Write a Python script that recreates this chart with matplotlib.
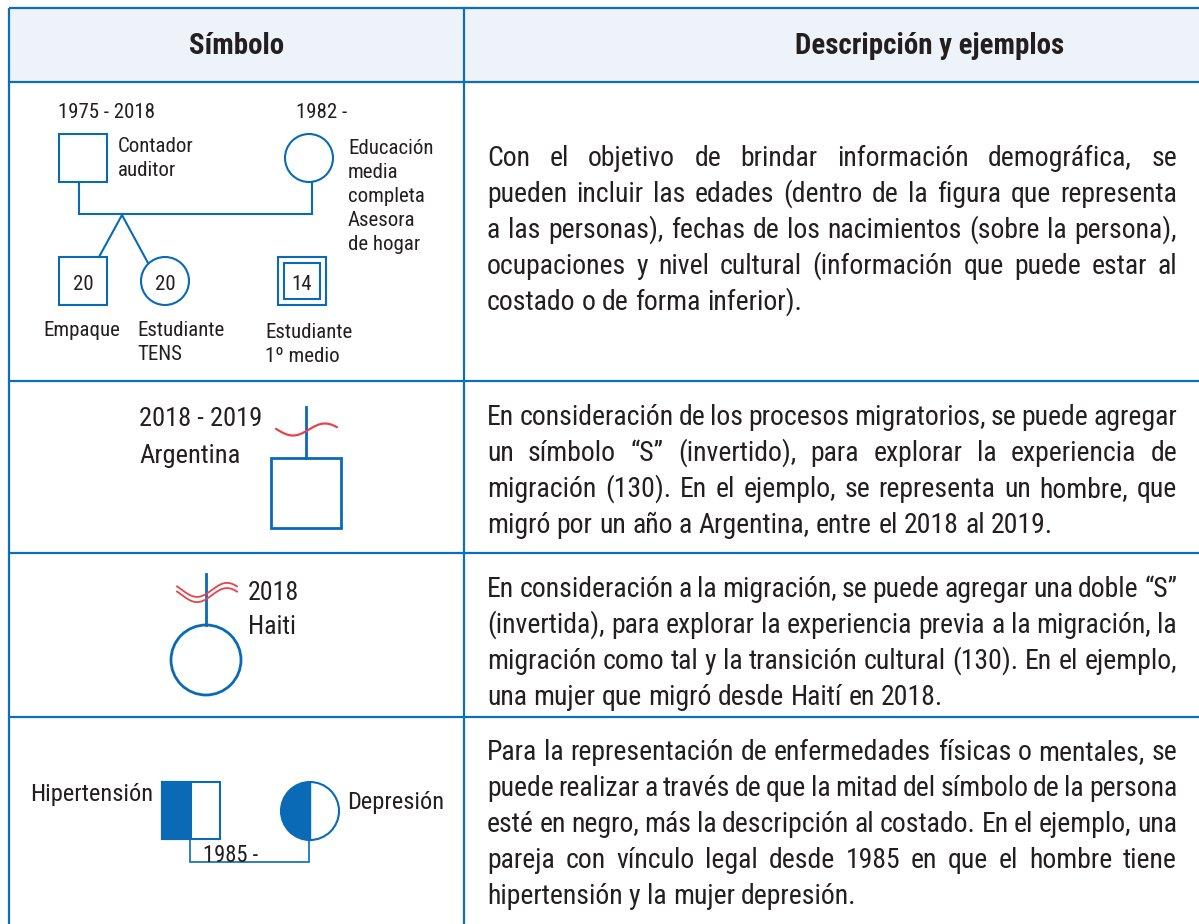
import matplotlib
matplotlib.use("Agg")
import matplotlib.pyplot as plt
from matplotlib import font_manager as fm
from matplotlib.font_manager import FontProperties
from matplotlib.patches import Rectangle, Circle, Wedge
import numpy as np

# ---------------- content ----------------
header_symbol = "Símbolo"
header_desc = "Descripción y ejemplos"

row1_desc = [
    "Con el objetivo de brindar información demográfica, se",
    "pueden incluir las edades (dentro de la figura que representa",
    "a las personas), fechas de los nacimientos (sobre la persona),",
    "ocupaciones y nivel cultural (información que puede estar al",
    "costado o de forma inferior).",
]
row2_desc = [
    "En consideración de los procesos migratorios, se puede agregar",
    "un símbolo “S” (invertido), para explorar la experiencia de",
    "migración (130). En el ejemplo, se representa un hombre, que",
    "migró por un año a Argentina, entre el 2018 al 2019.",
]
row3_desc = [
    "En consideración a la migración, se puede agregar una doble “S”",
    "(invertida), para explorar la experiencia previa a la migración, la",
    "migración como tal y la transición cultural (130). En el ejemplo,",
    "una mujer que migró desde Haití en 2018.",
]
row4_desc = [
    "Para la representación de enfermedades físicas o mentales, se",
    "puede realizar a través de que la mitad del símbolo de la persona",
    "esté en negro, más la descripción al costado. En el ejemplo, una",
    "pareja con vínculo legal desde 1985 en que el hombre tiene",
    "hipertensión y la mujer depresión.",
]

r1_father_years = "1975 - 2018"
r1_mother_years = "1982 -"
r1_father_job = ["Contador", "auditor"]
r1_mother_job = ["Educación", "media", "completa", "Asesora", "de hogar"]
r1_son_age = "20"
r1_daughter_age = "20"
r1_index_age = "14"
r1_son_job = "Empaque"
r1_daughter_job = ["Estudiante", "TENS"]
r1_index_job = ["Estudiante", "1º medio"]

r2_label = ["2018 - 2019", "Argentina"]
r3_label = ["2018", "Haiti"]
r4_left = "Hipertensión"
r4_right = "Depresión"
r4_year = "1985 -"

# ---------------- style ----------------
BORDER = "#0B6FC1"
BLUE = "#0A6AB6"
RED = "#E8424C"
TXT = "#231F20"
HEAD_BG = "#EEF3FA"


def _w(e):
    w = e.weight
    if isinstance(w, str):
        w = fm.weight_dict.get(w, 400)
    return w


def pick_fonts():
    ents = [e for e in fm.fontManager.ttflist if e.style == "normal"]
    cond_words = ("condensed", "semi-condensed", "extra-condensed", "ultra-condensed")
    fams = {}
    for e in ents:
        is_cond = (str(e.stretch) in cond_words or "Condensed" in e.name
                   or "Narrow" in e.name or "Condensed" in e.fname or "Narrow" in e.fname)
        if not is_cond:
            continue
        fams.setdefault(e.name, []).append(e)
    prefs = ["Roboto Condensed", "Open Sans Condensed", "Open Sans", "Noto Sans",
             "Noto Sans Condensed", "Lato", "Liberation Sans Narrow", "DejaVu Sans"]
    order = [p for p in prefs if p in fams] + [n for n in fams if n not in prefs]
    for name in order:
        lst = fams[name]
        reg = [e for e in lst if 350 <= _w(e) <= 450]
        bold = [e for e in lst if _w(e) >= 600]
        if reg:
            reg.sort(key=lambda e: abs(_w(e) - 400))
            b = sorted(bold, key=lambda e: abs(_w(e) - 700))[0].fname if bold else None
            return reg[0].fname, b, name
    return None, None, "none"


REG_PATH, BOLD_PATH, FONT_NAME = pick_fonts()


def fp_reg(size):
    if REG_PATH:
        return FontProperties(fname=REG_PATH, size=size)
    return FontProperties(family=["Roboto", "DejaVu Sans"], size=size)


def fp_bold(size):
    if BOLD_PATH:
        return FontProperties(fname=BOLD_PATH, size=size)
    if REG_PATH:
        return FontProperties(fname=REG_PATH, size=size, weight="bold")
    return FontProperties(family=["Roboto", "DejaVu Sans"], size=size, weight="bold")


# ---------------- figure ----------------
W, H = 1199, 924
fig = plt.figure(figsize=(W / 100, H / 100), dpi=100)
ax = fig.add_axes([0, 0, 1, 1])
ax.set_xlim(0, W)
ax.set_ylim(H, 0)
ax.axis("off")
renderer = fig.canvas.get_renderer()


def tw(s, fp):
    t = ax.text(0, 0, s, fontproperties=fp)
    w = t.get_window_extent(renderer).width
    t.remove()
    return w


def fit_size(pairs, maker):
    tot_t = sum(p[1] for p in pairs)
    tot_m = sum(tw(p[0], maker(10)) for p in pairs)
    return 10 * tot_t / tot_m


# ---------------- table ----------------
LEFT, TOP, MID, RIGHT = 9, 8, 464, 1199
ROWS = [82, 381, 553, 717]
ax.add_patch(Rectangle((LEFT, TOP), RIGHT - LEFT + 5, ROWS[0] - TOP, facecolor=HEAD_BG,
                       edgecolor="none", zorder=0))
for y in [TOP] + ROWS:
    ax.plot([LEFT, RIGHT + 5], [y, y], color=BORDER, lw=1.6, solid_capstyle="butt", zorder=1)
for x in [LEFT, MID]:
    ax.plot([x, x], [TOP, H + 5], color=BORDER, lw=1.6, solid_capstyle="butt", zorder=1)

# headers
hsize = fit_size([(header_symbol, 94), (header_desc, 270)], fp_bold)
ax.text(237, 46, header_symbol, fontproperties=fp_bold(hsize), color=TXT, ha="center", va="center")
ax.text(930, 46, header_desc, fontproperties=fp_bold(hsize), color=TXT, ha="center", va="center")

# ---------------- body text (justified) ----------------
bsize = fit_size([(row1_desc[-1], 308), (row2_desc[-1], 565), (row3_desc[-1], 453),
                  (row4_desc[-1], 371)], fp_reg)
X0, X1 = 487, 1177
allines = row1_desc + row2_desc + row3_desc + row4_desc
for _ in range(10):
    fp = fp_reg(bsize)
    sp = tw("a a", fp) - tw("aa", fp)
    worst = max(sum(tw(w, fp) for w in ln.split(" ")) + sp * 0.6 * (len(ln.split(" ")) - 1)
                for ln in allines)
    if worst <= X1 - X0:
        break
    bsize *= (X1 - X0) / worst
BODY = fp_reg(bsize)


def draw_par(lines, first_baseline, step=36):
    sp = tw("a a", BODY) - tw("aa", BODY)
    for i, line in enumerate(lines):
        yb = first_baseline + i * step
        words = line.split(" ")
        widths = [tw(w, BODY) for w in words]
        if i == len(lines) - 1 or len(words) == 1:
            gap = sp
        else:
            gap = (X1 - X0 - sum(widths)) / (len(words) - 1)
        x = X0
        for w, wd in zip(words, widths):
            ax.text(x, yb, w, fontproperties=BODY, color=TXT, ha="left", va="baseline")
            x += wd + gap


draw_par(row1_desc, 166)
draw_par(row2_desc, 425)
draw_par(row3_desc, 597)
draw_par(row4_desc, 760)

# ---------------- row 1 : demographic genogram ----------------
s1 = fit_size([(r1_father_years, 99), ("Educación", 84), ("Estudiante", 86), ("Empaque", 76)], fp_reg)
F1 = fp_reg(s1)
LW = 1.5


def lab(x, y, s, fp, ha="left"):
    ax.text(x, y, s, fontproperties=fp, color=TXT, ha=ha, va="center_baseline")


lab(58, 110, r1_father_years, F1)
lab(296, 110, r1_mother_years, F1)
for i, s in enumerate(r1_father_job):
    lab(118, 145 + 24 * i, s, F1)
for i, s in enumerate(r1_mother_job):
    lab(348, 146 + 24 * i, s, F1)

ax.add_patch(Rectangle((59, 134), 48, 48, fill=False, ec=BLUE, lw=LW))
ax.add_patch(Circle((309, 158), 24, fill=False, ec=BLUE, lw=LW))
ax.plot([79, 79, 312, 312], [182, 214, 214, 182], color=BLUE, lw=LW, solid_joinstyle="miter")
ax.plot([99, 122, 148], [257, 215, 263], color=BLUE, lw=LW)
ax.add_patch(Rectangle((59, 257), 48, 48, fill=False, ec=BLUE, lw=LW))
ax.add_patch(Circle((165, 281), 24, fill=False, ec=BLUE, lw=LW))
ax.add_patch(Rectangle((278, 257), 48, 48, fill=False, ec=BLUE, lw=LW))
ax.add_patch(Rectangle((284, 263), 36, 36, fill=False, ec=BLUE, lw=LW))
lab(83, 282, r1_son_age, F1, ha="center")
lab(165, 282, r1_daughter_age, F1, ha="center")
lab(302, 282, r1_index_age, F1, ha="center")
lab(43, 328, r1_son_job, F1)
for i, s in enumerate(r1_daughter_job):
    lab(137, 328 + 24 * i, s, F1)
for i, s in enumerate(r1_index_job):
    lab(265, 331 + 24 * i, s, F1)

# ---------------- row 2 : single migration ----------------
s2 = fit_size([(r2_label[0], 124), (r2_label[1], 98)], fp_reg)
F2 = fp_reg(s2)
lab(139, 417, r2_label[0], F2)
lab(139, 453, r2_label[1], F2)
LW2 = 2.0
ax.plot([306, 306], [407, 458], color=BLUE, lw=LW2)
ax.add_patch(Rectangle((271, 458), 70, 70, fill=False, ec=BLUE, lw=LW2))
xs = np.linspace(276, 337, 120)
ax.plot(xs, 429.5 + 6.0 * np.cos(2 * np.pi * (xs - 293) / 64), color=RED, lw=1.6,
        solid_capstyle="round")

# ---------------- row 3 : double migration ----------------
s3 = fit_size([(r3_label[0], 50), (r3_label[1], 48)], fp_reg)
F3 = fp_reg(s3)
lab(248, 590, r3_label[0], F3)
lab(248, 625, r3_label[1], F3)
ax.plot([206, 206], [574, 625], color=BLUE, lw=LW2)
ax.add_patch(Circle((206, 660), 35, fill=False, ec=BLUE, lw=LW2))
xs = np.linspace(177, 237, 120)
for off in (-2.6, 2.6):
    ax.plot(xs, 592.5 + off + 7.0 * np.cos(2 * np.pi * (xs - 197) / 60), color=RED, lw=1.3)

# ---------------- row 4 : illness ----------------
s4 = fit_size([(r4_left, 123), (r4_right, 96)], fp_reg)
F4 = fp_reg(s4)
lab(30, 792, r4_left, F4)
lab(347, 800, r4_right, F4)
ax.add_patch(Rectangle((162, 782), 29, 57, facecolor=BLUE, ec=BLUE, lw=LW))
ax.add_patch(Rectangle((162, 782), 58, 57, fill=False, ec=BLUE, lw=LW))
ax.add_patch(Wedge((310, 811), 29, 90, 270, facecolor=BLUE, ec="none"))
ax.add_patch(Circle((310, 811), 29, fill=False, ec=BLUE, lw=LW))
ax.plot([310, 310], [782, 840], color=BLUE, lw=1.0)
ax.plot([190, 190, 309, 309], [839, 862, 862, 840], color=BLUE, lw=1.2, solid_joinstyle="miter")
s5 = fit_size([(r4_year, 55)], fp_reg)
lab(203, 853, r4_year, fp_reg(s5))

fig.savefig("out.png", dpi=100)
